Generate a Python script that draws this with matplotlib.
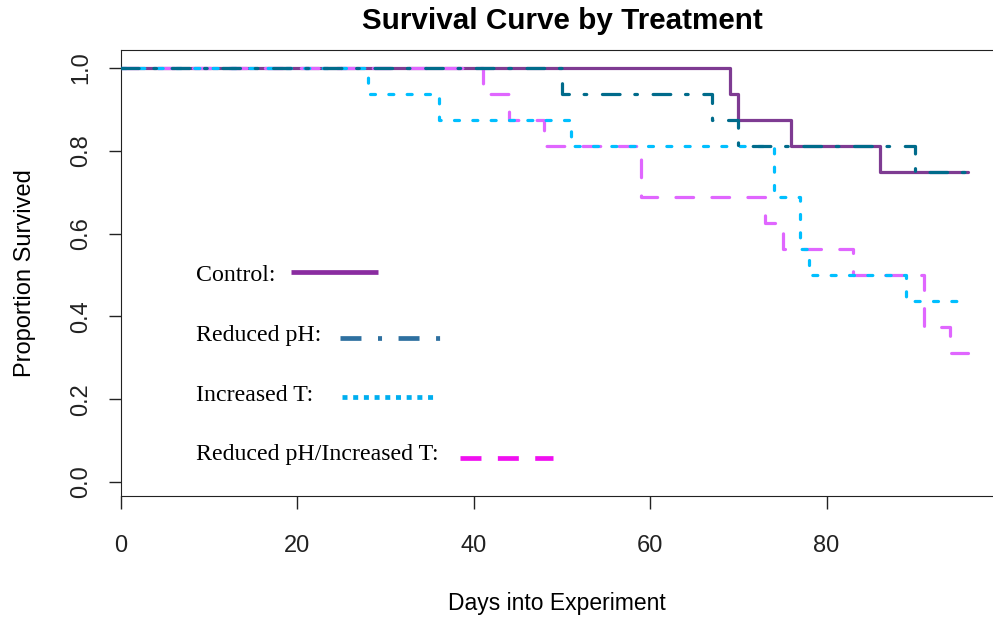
import matplotlib
matplotlib.use("Agg")
import matplotlib.pyplot as plt

plt.rcParams['lines.scale_dashes'] = False
plt.rcParams['font.family'] = ['Liberation Sans', 'DejaVu Sans']

# Kaplan-Meier style steps: day of each drop and the proportion surviving after it
control_days = [0, 69, 70, 76, 86, 96]
control_surv = [1.0, 0.9375, 0.875, 0.8125, 0.75, 0.75]

low_ph_days = [0, 50, 67, 70, 90, 96]
low_ph_surv = [1.0, 0.9375, 0.875, 0.8125, 0.75, 0.75]

high_t_days = [0, 28, 36, 51, 74, 77, 78, 89, 96]
high_t_surv = [1.0, 0.9375, 0.875, 0.8125, 0.6875, 0.5625, 0.5, 0.4375, 0.4375]

both_days = [0, 41, 44, 48, 59, 73, 75, 83, 91, 94, 96]
both_surv = [1.0, 0.9375, 0.875, 0.8125, 0.6875, 0.625, 0.5625, 0.5, 0.375, 0.3125, 0.3125]

legend_labels = ["Control:", "Reduced pH:", "Increased T:", "Reduced pH/Increased T:"]

fig = plt.figure(figsize=(9.93, 6.18), dpi=100)
ax = fig.add_axes([121/993, 122/618, 872/993, 446/618])

def steps(days, surv, color, dashes=None, zorder=2):
    line, = ax.step(days, surv, where='post', color=color, lw=2.3,
                    solid_capstyle='round', dash_capstyle='round', zorder=zorder)
    if dashes:
        line.set_dashes(dashes)
    return line

steps(control_days, control_surv, '#7e3b92', zorder=2)
steps(both_days, both_surv, '#e066ff', dashes=(12.7, 13.2), zorder=3)
steps(high_t_days, high_t_surv, '#00bfff', dashes=(3.6, 9.6), zorder=4)
steps(low_ph_days, low_ph_surv, '#006b8b', dashes=(12.7, 10.6, 1.9, 11.3), zorder=5)

ax.set_xlim(0, 872/8.82)
ax.set_ylim(-0.0338, 1.0435)
ax.set_xticks([0, 20, 40, 60, 80])
ax.set_yticks([0.0, 0.2, 0.4, 0.6, 0.8, 1.0])
ax.set_yticklabels(["0.0", "0.2", "0.4", "0.6", "0.8", "1.0"], rotation=90, va='center')
ax.tick_params(axis='both', length=9, width=1, labelsize=17, colors='#222222')
ax.tick_params(axis='x', pad=19)
ax.tick_params(axis='y', pad=12)
ax.spines['right'].set_visible(False)
for s in ['left', 'bottom', 'top']:
    ax.spines[s].set_color('#222222')

ax.set_xlabel("Days into Experiment", fontsize=16.5, labelpad=25)
ax.set_ylabel("Proportion Survived", fontsize=17, labelpad=24)
fig.text(562/993, 1 - 21/618, "Survival Curve by Treatment", ha='center', va='center',
         fontsize=21.3, fontweight='bold')

# hand-placed key inside the plot area
key_text_y = [0.4955, 0.359, 0.226, 0.092]
key_line_x = [(0.195, 0.295), (0.251, 0.366), (0.253, 0.362), (0.389, 0.495)]
key_line_y = [0.502, 0.354, 0.222, 0.085]
key_colors = ['#8a2ca0', '#2e70a0', '#00aeef', '#f010f0']
key_dashes = [None, (15.1, 11.9, 2.9, 11.9), (3.6, 4.1), (15.1, 11.8)]
for label, ty, (x0, x1), ly, c, d in zip(legend_labels, key_text_y, key_line_x,
                                         key_line_y, key_colors, key_dashes):
    ax.text(0.086, ty, label, transform=ax.transAxes, va='center', ha='left',
            fontsize=17.2, family=['Liberation Serif', 'DejaVu Serif'])
    ln, = ax.plot([x0, x1], [ly, ly], transform=ax.transAxes, color=c, lw=3.4,
                  solid_capstyle='butt', dash_capstyle='butt', clip_on=False)
    if d:
        ln.set_dashes(d)

fig.savefig("out.png", dpi=100)
